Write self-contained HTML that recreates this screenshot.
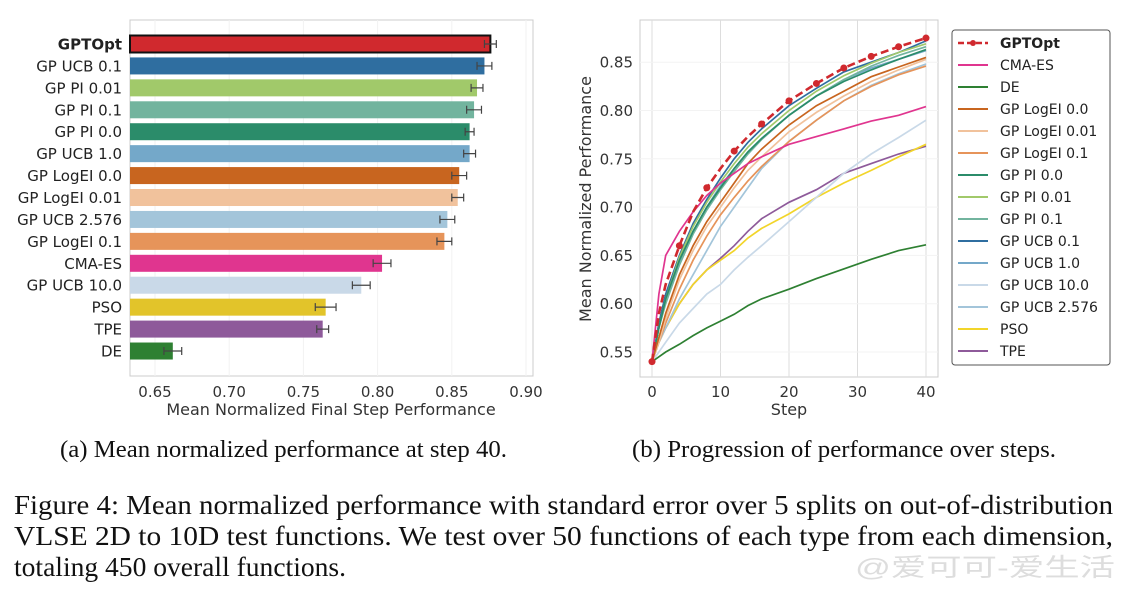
<!DOCTYPE html>
<html><head><meta charset="utf-8"><style>
body{margin:0;background:#fff;}
svg{display:block;font-family:"DejaVu Sans","Liberation Sans",sans-serif;}
.serif{font-family:"Liberation Serif",serif;}
</style></head><body>
<svg id="fig" width="1129" height="590" viewBox="0 0 1129 590">
<g id="left"></g>
<g id="right"></g>
<text class="serif" x="60" y="457" font-size="24" textLength="447" lengthAdjust="spacingAndGlyphs" fill="#111">(a) Mean normalized performance at step 40.</text>
<text class="serif" x="632" y="457" font-size="24" textLength="424" lengthAdjust="spacingAndGlyphs" fill="#111">(b) Progression of performance over steps.</text>
<g class="serif" font-size="27" fill="#111">
<text x="14" y="514" textLength="1099" lengthAdjust="spacingAndGlyphs">Figure 4:  Mean normalized performance with standard error over 5 splits on out-of-distribution</text>
<text x="14" y="545" textLength="1099" lengthAdjust="spacingAndGlyphs">VLSE 2D to 10D test functions.  We test over 50 functions of each type from each dimension,</text>
<text x="14" y="576" textLength="332" lengthAdjust="spacingAndGlyphs">totaling 450 overall functions.</text>
</g>
<text x="855" y="576" font-size="25" textLength="260" lengthAdjust="spacingAndGlyphs" fill="#ddd" font-family="Liberation Sans, Noto Sans CJK SC, sans-serif">@爱可可-爱生活</text>
</svg>
<script>
const NS='http://www.w3.org/2000/svg';
const barNames=['GPTOpt','GP UCB 0.1','GP PI 0.01','GP PI 0.1','GP PI 0.0','GP UCB 1.0','GP LogEI 0.0','GP LogEI 0.01','GP UCB 2.576','GP LogEI 0.1','CMA-ES','GP UCB 10.0','PSO','TPE','DE'];
const barValues=[0.876,0.872,0.867,0.865,0.862,0.862,0.855,0.854,0.847,0.845,0.803,0.789,0.765,0.763,0.662];
const barErrors=[0.004,0.005,0.004,0.005,0.003,0.004,0.005,0.004,0.005,0.005,0.006,0.006,0.007,0.004,0.006];
const barColors=['#d0292e','#2f6ea0','#a1c96a','#72b49e','#2b8c6a','#74a8c9','#c8651f','#f1c29c','#a3c5da','#e6945a','#e0358f','#c9d9e8','#e2c42a','#8e5a9a','#2e8032'];
const xTicksL=[0.65,0.70,0.75,0.80,0.85,0.90];

const steps=[0,1,2,4,6,8,10,12,14,16,20,24,28,32,36,40];
const seriesNames=['GPTOpt','CMA-ES','DE','GP LogEI 0.0','GP LogEI 0.01','GP LogEI 0.1','GP PI 0.0','GP PI 0.01','GP PI 0.1','GP UCB 0.1','GP UCB 1.0','GP UCB 10.0','GP UCB 2.576','PSO','TPE'];
const seriesColors=['#d0292e','#e0358f','#2e8032','#c8651f','#f1c29c','#e6945a','#2b8c6a','#a1c96a','#72b49e','#2f6ea0','#74a8c9','#c9d9e8','#a3c5da','#f2d52a','#8e5a9a'];
const sGPTOpt=[0.54,0.59,0.62,0.66,0.695,0.72,0.74,0.758,0.773,0.786,0.81,0.828,0.844,0.856,0.866,0.875];
const sCMA=[0.54,0.61,0.65,0.675,0.695,0.712,0.725,0.735,0.745,0.752,0.765,0.773,0.781,0.789,0.795,0.804];
const sDE=[0.54,0.545,0.55,0.558,0.567,0.575,0.582,0.589,0.598,0.605,0.615,0.626,0.636,0.646,0.655,0.661];
const sLogEI0=[0.54,0.565,0.59,0.63,0.66,0.685,0.705,0.725,0.745,0.76,0.785,0.805,0.82,0.835,0.845,0.855];
const sLogEI001=[0.54,0.56,0.585,0.625,0.655,0.68,0.70,0.72,0.738,0.752,0.778,0.798,0.815,0.83,0.842,0.853];
const sLogEI01=[0.54,0.56,0.58,0.615,0.645,0.67,0.692,0.71,0.727,0.742,0.768,0.79,0.81,0.825,0.837,0.846];
const sPI0=[0.54,0.575,0.605,0.645,0.675,0.70,0.72,0.74,0.757,0.771,0.795,0.815,0.83,0.842,0.853,0.863];
const sPI001=[0.54,0.575,0.605,0.648,0.68,0.705,0.726,0.745,0.762,0.776,0.8,0.82,0.836,0.849,0.86,0.869];
const sPI01=[0.54,0.575,0.6,0.64,0.672,0.697,0.718,0.737,0.755,0.77,0.795,0.815,0.832,0.846,0.857,0.866];
const sUCB01=[0.54,0.58,0.61,0.65,0.683,0.708,0.73,0.75,0.767,0.781,0.805,0.823,0.84,0.85,0.86,0.872];
const sUCB1=[0.54,0.575,0.603,0.643,0.675,0.70,0.722,0.74,0.757,0.771,0.795,0.815,0.832,0.844,0.853,0.862];
const sUCB10=[0.54,0.55,0.56,0.58,0.595,0.61,0.62,0.635,0.648,0.66,0.685,0.71,0.735,0.755,0.772,0.79];
const sUCB2576=[0.54,0.56,0.575,0.605,0.63,0.655,0.68,0.7,0.72,0.74,0.768,0.79,0.81,0.826,0.838,0.848];
const sPSO=[0.54,0.56,0.575,0.6,0.62,0.635,0.645,0.655,0.668,0.678,0.693,0.71,0.725,0.738,0.752,0.765];
const sTPE=[0.54,0.56,0.575,0.6,0.62,0.635,0.647,0.66,0.675,0.688,0.705,0.718,0.735,0.745,0.755,0.763];
const seriesValues=[sGPTOpt,sCMA,sDE,sLogEI0,sLogEI001,sLogEI01,sPI0,sPI001,sPI01,sUCB01,sUCB1,sUCB10,sUCB2576,sPSO,sTPE];
const xTicksR=[0,10,20,30,40];
const yTicksR=[0.55,0.60,0.65,0.70,0.75,0.80,0.85];

function mk(p,tag,a,txt){const e=document.createElementNS(NS,tag);for(const k in a)e.setAttribute(k,a[k]);if(txt!==undefined)e.textContent=txt;p.appendChild(e);return e;}

// LEFT
const L=document.getElementById('left');
const xL=v=>155+(v-0.65)*1484;
const yL=i=>44+i*21.93;
mk(L,'rect',{x:130,y:20,width:403,height:356,fill:'#fff',stroke:'#ccc','stroke-width':1});
xTicksL.forEach(t=>{
  mk(L,'line',{x1:xL(t),x2:xL(t),y1:20,y2:376,stroke:'#f2f2f2'});
  const tx=mk(L,'text',{x:xL(t),y:397,'font-size':15,'text-anchor':'middle',fill:'#333'},t.toFixed(2));
  
});
barNames.forEach((n,i)=>{
  const r=mk(L,'rect',{x:130,y:yL(i)-8.5,width:xL(barValues[i])-130,height:17,fill:barColors[i]});
  if(i===0){r.setAttribute('stroke','#111');r.setAttribute('stroke-width',2);}
  
  
  const e1=xL(barValues[i]-barErrors[i]),e2=xL(barValues[i]+barErrors[i]),y=yL(i);
  const eb=mk(L,'path',{d:`M${e1},${y}H${e2}M${e1},${y-4}V${y+4}M${e2},${y-4}V${y+4}`,stroke:'#444','stroke-width':1.2,fill:'none'});
  
  const lab=mk(L,'text',{x:122,y:y+5.5,'font-size':15,'text-anchor':'end',fill:'#222','font-weight':i===0?'bold':'normal'},n);
  
});
const xtl=mk(L,'text',{x:331,y:415,'font-size':16,'text-anchor':'middle',fill:'#333'},'Mean Normalized Final Step Performance');


// RIGHT
const R=document.getElementById('right');
const xR=s=>652+s*6.85;
const yR=v=>352-(v-0.55)*966;
mk(R,'rect',{x:640,y:20,width:298,height:357,fill:'#fff',stroke:'#ccc','stroke-width':1});
xTicksR.forEach(t=>{
  mk(R,'line',{x1:xR(t),x2:xR(t),y1:20,y2:377,stroke:'#ddd'});
  const tx=mk(R,'text',{x:xR(t),y:397,'font-size':15,'text-anchor':'middle',fill:'#333'},String(t));
  
});
yTicksR.forEach(t=>{
  mk(R,'line',{x1:640,x2:938,y1:yR(t),y2:yR(t),stroke:'#f3f3f3'});
  const tx=mk(R,'text',{x:633,y:yR(t)+5.5,'font-size':15,'text-anchor':'end',fill:'#333'},t.toFixed(2));
  
});
for(let k=seriesValues.length-1;k>=0;k--){
  const d=steps.map((s,j)=>(j?'L':'M')+xR(s).toFixed(1)+','+yR(seriesValues[k][j]).toFixed(1)).join('');
  const p=mk(R,'path',{d:d,fill:'none',stroke:seriesColors[k],'stroke-width':k===0?2.6:1.7,'stroke-dasharray':k===0?'8,4':'none'});
  
  
}
steps.forEach((s,j)=>{ if(s%4===0){
  const c=mk(R,'circle',{cx:xR(s),cy:yR(sGPTOpt[j]),r:3.5,fill:seriesColors[0]});
  
}});
const ytr=mk(R,'text',{x:0,y:0,'font-size':16,'text-anchor':'middle',fill:'#333',transform:'translate(591,199) rotate(-90)'},'Mean Normalized Performance');

const xtr=mk(R,'text',{x:789,y:415,'font-size':16,'text-anchor':'middle',fill:'#333'},'Step');

// legend
const lg=mk(R,'g',{});

mk(lg,'rect',{x:952,y:30,width:158,height:335,rx:3,fill:'#fff',stroke:'#555','stroke-width':1});
seriesNames.forEach((n,i)=>{
  const y=43+i*22;
  const g=mk(lg,'g',{});
  
  
  mk(g,'line',{x1:958,x2:988,y1:y,y2:y,stroke:seriesColors[i],'stroke-width':i===0?2.5:2,'stroke-dasharray':i===0?'6,3':'none'});
  if(i===0) mk(g,'circle',{cx:973,cy:y,r:3,fill:seriesColors[0]});
  mk(g,'text',{x:1000,y:y+5,'font-size':14,fill:'#222','font-weight':i===0?'bold':'normal'},n);
});
</script>
</body></html>
